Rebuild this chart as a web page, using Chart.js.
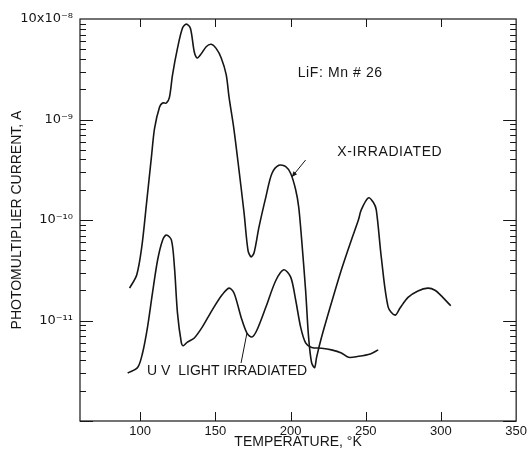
<!DOCTYPE html>
<html>
<head>
<meta charset="utf-8">
<script src="https://cdn.jsdelivr.net/npm/chart.js@4/dist/chart.umd.min.js"></script>
<style>
  html, body { margin: 0; padding: 0; background: #fff; }
  #wrap { width: 530px; height: 451px; position: relative; }
</style>
</head>
<body>
<div id="wrap"><canvas id="tl"></canvas></div>
<script>
// --- data ---
const xrayTemp = [93, 97.7, 101, 104.3, 107.6, 109.6, 112.9, 114.9, 117.5, 119.5, 121.5, 124.8, 128.1, 130.7,
  133.4, 136, 138, 140.6, 143.9, 147.2, 150.5, 153.9, 157.2, 159.1, 162.4, 165.7, 169.1, 171.7, 173.7, 175.7,
  179, 183.6, 187.6, 192.2, 196.8, 200.1, 203.4, 205.4, 207.4, 210, 212, 214, 216, 217.3, 220.6, 227.2, 233.8,
  240.4, 245.1, 247, 251.7, 255, 257, 260.3, 264.9, 269.5, 272.8, 278.1, 284.7, 291.3, 296, 301.2, 306.5];
const xrayCurrent = [2.1e-11, 2.84e-11, 5.3e-11, 1.5e-10, 4.4e-10, 8.2e-10, 1.33e-9, 1.46e-9, 1.46e-9, 1.67e-9,
  2.77e-9, 5.1e-9, 8.1e-9, 8.9e-9, 8.1e-9, 4.7e-9, 4.1e-9, 4.5e-9, 5.3e-9, 5.6e-9, 5.1e-9, 4.1e-9, 2.8e-9,
  1.67e-9, 7.9e-10, 3.15e-10, 1.17e-10, 5.0e-11, 4.3e-11, 4.7e-11, 8.5e-11, 1.7e-10, 2.9e-10, 3.5e-10, 3.4e-10,
  2.9e-10, 2.0e-10, 1.35e-10, 6.3e-11, 2.0e-11, 6.8e-12, 3.8e-12, 3.4e-12, 4.3e-12, 6.8e-12, 1.5e-11, 3.2e-11,
  6.3e-11, 1.0e-10, 1.26e-10, 1.66e-10, 1.5e-10, 1.26e-10, 4.3e-11, 1.36e-11, 1.13e-11, 1.33e-11, 1.7e-11,
  1.97e-11, 2.1e-11, 2.0e-11, 1.7e-11, 1.4e-11];

const uvTemp = [91.7, 98.3, 101.6, 104.9, 108.2, 111.6, 114.9, 117.5, 120.8, 122.8, 124.8, 127.4, 128.7, 131.4,
  136, 141.3, 147.9, 154.5, 159.1, 162.4, 167.1, 171, 174.3, 177.6, 183.6, 190.2, 195.5, 200.1, 203.4, 206.7,
  210, 214, 220.6, 227.2, 233.8, 238.5, 245.1, 253, 258.3];
const uvCurrent = [3.0e-12, 3.4e-12, 4.75e-12, 8.6e-12, 1.88e-11, 4.0e-11, 6.3e-11, 7.1e-11, 6.3e-11, 3.4e-11,
  1.19e-11, 6.0e-12, 5.6e-12, 6.1e-12, 6.7e-12, 8.6e-12, 1.27e-11, 1.8e-11, 2.1e-11, 1.88e-11, 1.08e-11, 7.5e-12,
  6.85e-12, 8.0e-12, 1.36e-11, 2.5e-11, 3.2e-11, 2.7e-11, 1.6e-11, 8.6e-12, 6.0e-12, 5.4e-12, 5.3e-12, 5.1e-12,
  4.75e-12, 4.3e-12, 4.4e-12, 4.65e-12, 5.1e-12];

const xTickValues = [100, 150, 200, 250, 300, 350];
const yTickValues = [1e-11, 1e-10, 1e-9, 1e-8];
const yTickLabels = ['10\u207B\u00B9\u00B9', '10\u207B\u00B9\u2070', '10\u207B\u2079', '10x10\u207B\u2078'];

const FONT = 'Liberation Sans';
const INK = '#161616';

const toPoints = (xs, ys) => xs.map((x, i) => ({ x, y: ys[i] }));

// frame, inward tick marks and the hand-lettered annotations
const paperPlugin = {
  id: 'paper',
  afterDraw(chart) {
    const { ctx, chartArea: a, scales: { x, y } } = chart;
    ctx.save();
    ctx.strokeStyle = INK;
    ctx.lineWidth = 1.2;
    ctx.strokeRect(a.left, a.top, a.right - a.left, a.bottom - a.top);

    ctx.lineWidth = 1;
    ctx.beginPath();
    // x ticks, top and bottom
    xTickValues.slice(0, -1).forEach(v => {
      const px = Math.round(x.getPixelForValue(v)) + 0.5;
      ctx.moveTo(px, a.bottom); ctx.lineTo(px, a.bottom - 9);
      ctx.moveTo(px, a.top); ctx.lineTo(px, a.top + 8);
    });
    // log ticks, left and right
    for (let e = -12; e < -8; e++) {
      for (let k = 1; k <= 9; k++) {
        const v = k * Math.pow(10, e);
        const py = Math.round(y.getPixelForValue(v)) + 0.5;
        const len = k === 1 ? 13 : 6;
        ctx.moveTo(a.left, py); ctx.lineTo(a.left + len, py);
        ctx.moveTo(a.right, py); ctx.lineTo(a.right - len, py);
      }
    }
    ctx.stroke();

    // annotations
    ctx.fillStyle = INK;
    ctx.textAlign = 'center';
    ctx.textBaseline = 'middle';
    ctx.font = '14px "' + FONT + '"';
    ctx.letterSpacing = '0.6px';
    ctx.fillText('LiF: Mn # 26', x.getPixelForValue(233), y.getPixelForValue(2.9e-9));
    ctx.fillText('X-IRRADIATED', x.getPixelForValue(266), y.getPixelForValue(4.75e-10));
    ctx.letterSpacing = '0px';
    ctx.fillText('U V  LIGHT IRRADIATED', x.getPixelForValue(157.8), y.getPixelForValue(3.15e-12));

    // arrow to the x-ray curve
    const ax0 = x.getPixelForValue(210), ay0 = y.getPixelForValue(3.95e-10);
    const ax1 = x.getPixelForValue(200.8), ay1 = y.getPixelForValue(2.68e-10);
    ctx.beginPath();
    ctx.moveTo(ax0, ay0); ctx.lineTo(ax1, ay1);
    ctx.stroke();
    const ang = Math.atan2(ay1 - ay0, ax1 - ax0);
    ctx.beginPath();
    ctx.moveTo(ax1, ay1);
    ctx.lineTo(ax1 - 6 * Math.cos(ang - 0.4), ay1 - 6 * Math.sin(ang - 0.4));
    ctx.lineTo(ax1 - 6 * Math.cos(ang + 0.4), ay1 - 6 * Math.sin(ang + 0.4));
    ctx.closePath();
    ctx.fill();

    // leader from UV label
    ctx.beginPath();
    ctx.moveTo(x.getPixelForValue(167.1), y.getPixelForValue(3.78e-12));
    ctx.lineTo(x.getPixelForValue(171), y.getPixelForValue(7.5e-12));
    ctx.stroke();
    ctx.restore();
  }
};

const lineStyle = {
  showLine: true,
  pointRadius: 0,
  borderColor: INK,
  borderWidth: 1.6,
  tension: 0.3,
  fill: false
};

new Chart(document.getElementById('tl'), {
  type: 'scatter',
  data: {
    datasets: [
      { label: 'X-IRRADIATED', data: toPoints(xrayTemp, xrayCurrent), ...lineStyle },
      { label: 'U V LIGHT IRRADIATED', data: toPoints(uvTemp, uvCurrent), ...lineStyle }
    ]
  },
  options: {
    responsive: true,
    maintainAspectRatio: false,
    animation: false,
    layout: { padding: { top: 19, right: 12, left: 0, bottom: 0 } },
    plugins: { legend: { display: false }, tooltip: { enabled: false } },
    scales: {
      x: {
        type: 'linear',
        min: 60,
        max: 350,
        afterBuildTicks: s => { s.ticks = xTickValues.map(v => ({ value: v })); },
        afterFit: s => { s.height = 30; },
        grid: { display: false, drawTicks: false },
        border: { display: false },
        ticks: { color: INK, font: { family: FONT, size: 13 }, padding: 3, maxRotation: 0, autoSkip: false },
        title: { display: true, text: 'TEMPERATURE, °K', color: INK, font: { family: FONT, size: 14 }, padding: { top: 0, bottom: 0 } }
      },
      y: {
        type: 'logarithmic',
        min: 1e-12,
        max: 1e-8,
        afterBuildTicks: s => { s.ticks = yTickValues.map(v => ({ value: v, major: true })); },
        afterFit: s => { s.width = 80; },
        grid: { display: false, drawTicks: false },
        border: { display: false },
        ticks: {
          color: INK,
          font: { family: 'DejaVu Sans', size: 13 },
          padding: 7,
          autoSkip: false,
          callback: (v, i) => yTickLabels[i]
        },
        title: { display: true, text: 'PHOTOMULTIPLIER CURRENT, A', color: INK, font: { family: FONT, size: 14 }, padding: { top: 9, bottom: 0 } }
      }
    }
  },
  plugins: [paperPlugin]
});
</script>
</body>
</html>
